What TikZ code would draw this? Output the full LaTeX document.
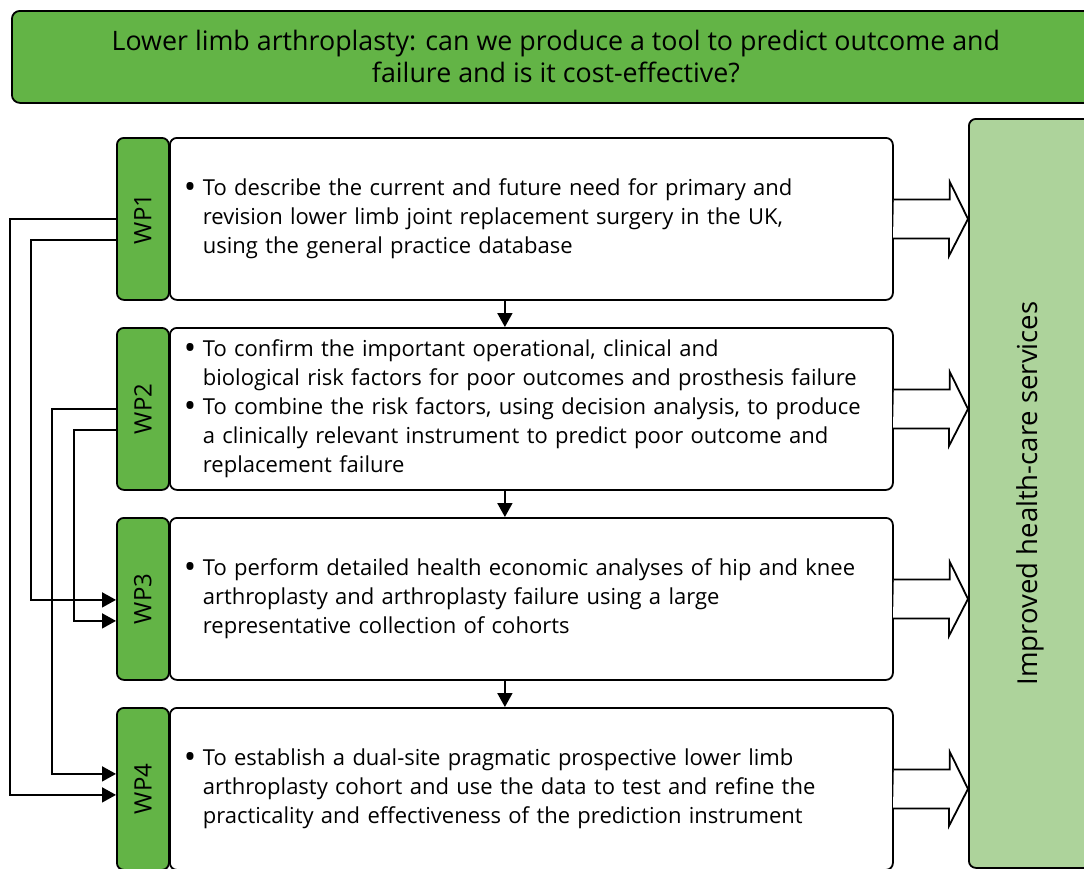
\documentclass[tikz,border=0pt]{standalone}
\usepackage{fontspec}
\setmainfont{Open Sans}
\usetikzlibrary{arrows.meta,calc}
\definecolor{wpgreen}{RGB}{99,180,70}
\definecolor{outgreen}{RGB}{173,211,155}
\newcommand{\wpbullet}{\makebox[16pt][l]{\hspace*{-3pt}\raisebox{-0.15em}{\scalebox{1.5}{\textbullet}}}}
\newcommand{\wpindent}{\hspace*{16pt}}

\begin{document}
\begin{tikzpicture}[
  x = 1pt, y = -1pt,
  line width = 1.8pt,
  every node/.style = {font = \fontsize{22}{29}\selectfont},
  title/.style = {draw, fill = wpgreen, rounded corners = 8pt, minimum width = 1088pt,
                  minimum height = 92pt, align = center, anchor = north west,
                  font = \fontsize{26.8}{32}\selectfont},
  tab/.style = {draw, fill = wpgreen, rounded corners = 7pt, minimum width = 52pt,
                minimum height = 162pt, inner sep = 0pt, anchor = north west,
                font = \fontsize{24}{29}\selectfont},
  task/.style = {draw, fill = white, rounded corners = 7pt, text width = 689pt,
                 minimum height = 162pt, inner xsep = 17pt, align = left, anchor = north west},
  result/.style = {draw, fill = outgreen, rounded corners = 7pt, minimum width = 122pt,
                   minimum height = 749pt, inner sep = 0pt, anchor = north west,
                   font = \fontsize{27.5}{32}\selectfont},
  link/.style = {-{Triangle[length = 14pt, width = 15pt]}},
  hollow/.style = {fill = white, line join = miter},
  ]
  \path[use as bounding box, clip] (0,0) rectangle (1084,868);

  \node[title] (head) at (11,10)
    {Lower limb arthroplasty: can we produce a tool to predict outcome and\\
     failure and is it cost-effective?};

  \node[result] (r) at (968,118) {\rotatebox{90}{Improved health-care services}};

  \node[tab] (w1) at (116,137) {\rotatebox{90}{WP1}};
  \node[task] (t1) at (169,137)
    {\wpbullet To describe the current and future need for primary and\\
     \wpindent revision lower limb joint replacement surgery in the UK,\\
     \wpindent using the general practice database};

  \node[tab] (w2) at (116,327) {\rotatebox{90}{WP2}};
  \node[task] (t2) at (169,327)
    {\wpbullet To confirm the important operational, clinical and\\
     \wpindent biological risk factors for poor outcomes and prosthesis failure\\
     \wpbullet To combine the risk factors, using decision analysis, to produce\\
     \wpindent a clinically relevant instrument to predict poor outcome and\\
     \wpindent replacement failure};

  \node[tab] (w3) at (116,517) {\rotatebox{90}{WP3}};
  \node[task] (t3) at (169,517)
    {\wpbullet To perform detailed health economic analyses of hip and knee\\
     \wpindent arthroplasty and arthroplasty failure using a large\\
     \wpindent representative collection of cohorts};

  \node[tab] (w4) at (116,707) {\rotatebox{90}{WP4}};
  \node[task] (t4) at (169,707)
    {\wpbullet To establish a dual-site pragmatic prospective lower limb\\
     \wpindent arthroplasty cohort and use the data to test and refine the\\
     \wpindent practicality and effectiveness of the prediction instrument};

  % down the chain
  \foreach \a/\b in {1/2, 2/3, 3/4}
    \draw[link] ($(w\a.south west)!0.5!(t\a.south east)$)
      -- ($(w\b.north west)!0.5!(t\b.north east)$);

  % into the services
  \foreach \i in {1,...,4}
    \draw[hollow] (t\i.east) ++(0,-19.5) -- ++(56,0) -- ++(0,-17.5)
      -- (r.west |- t\i.east) -- ++(-19,37) -- ++(0,-17.5) -- ++(-56,0);

  % feedback on the left
  \draw[link] (w1.west) -- ++(-106,0) |- ([yshift=-6pt]w4.west);
  \draw[link] ([yshift=-21pt]w1.west) -- ++(-85,0) |- ([yshift=-1pt]w3.west);
  \draw[link] (w2.west) -- ++(-64,0) |- ([yshift=15pt]w4.west);
  \draw[link] ([yshift=-21pt]w2.west) -- ++(-42,0) |- ([yshift=-22pt]w3.west);
\end{tikzpicture}
\end{document}
